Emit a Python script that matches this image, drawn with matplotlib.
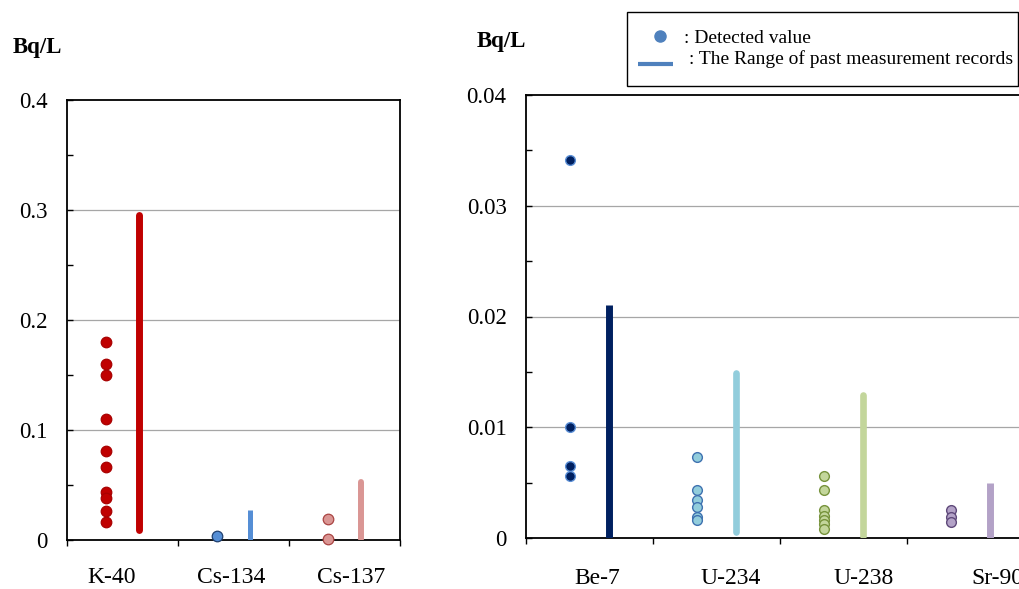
import numpy as np
import matplotlib
matplotlib.use("Agg")
import matplotlib.pyplot as plt
from matplotlib.lines import Line2D
from matplotlib.patches import Rectangle

plt.rcParams['font.family'] = ['Liberation Serif', 'DejaVu Serif']

# ---------------- data ----------------
left_categories = ['K-40', 'Cs-134', 'Cs-137']
k40_detected = [0.180, 0.160, 0.150, 0.110, 0.081, 0.066, 0.0436, 0.038, 0.026, 0.016]
cs134_detected = [0.0036]
cs137_detected = [0.019, 0.001]
left_range_lo = [0.009, 0.0, 0.001]
left_range_hi = [0.295, 0.027, 0.053]

right_categories = ['Be-7', 'U-234', 'U-238', 'Sr-90']
be7_detected = [0.0341, 0.0100, 0.0065, 0.0056]
u234_detected = [0.0073, 0.0043, 0.0034, 0.0028, 0.0019, 0.0016]
u238_detected = [0.0056, 0.0043, 0.0025, 0.0020, 0.0016, 0.0013, 0.0008]
sr90_detected = [0.0025, 0.0019, 0.0014]
right_range_lo = [0.0, 0.0005, 0.0002, 0.0]
right_range_hi = [0.021, 0.0149, 0.0129, 0.005]

left_yticks = [0, 0.1, 0.2, 0.3, 0.4]
left_yticklabels = ['0', '0.1', '0.2', '0.3', '0.4']
right_yticks = [0, 0.01, 0.02, 0.03, 0.04]
right_yticklabels = ['0', '0.01', '0.02', '0.03', '0.04']

legend_labels = [': Detected value', ': The Range of past measurement records']
unit_label = 'Bq/L'

# ---------------- styles ----------------
left_styles = [
    dict(fill='#C00000', edge='#A80000', bar='#C00000', lw=5.0, cap='round'),
    dict(fill='#558ED5', edge='#1F3F6E', bar='#558ED5', lw=3.6, cap='butt'),
    dict(fill='#DA9694', edge='#A94442', bar='#DA9694', lw=4.3, cap='round'),
]
right_styles = [
    dict(fill='#002060', edge='#5B8FD6', bar='#002060', lw=5.0, cap='butt'),
    dict(fill='#92CDDC', edge='#3F72B0', bar='#92CDDC', lw=4.8, cap='round'),
    dict(fill='#C3D69B', edge='#77933C', bar='#C3D69B', lw=4.8, cap='round'),
    dict(fill='#B3A2C7', edge='#5F497A', bar='#B3A2C7', lw=5.0, cap='butt'),
]

W, H = 1020, 589
fig = plt.figure(figsize=(W / 100, H / 100), dpi=100)


def px_rect(x0, y0, x1, y1):
    return [x0 / W, 1 - y1 / H, (x1 - x0) / W, (y1 - y0) / H]


ax1 = fig.add_axes(px_rect(67, 100, 400, 540))
ax2 = fig.add_axes(px_rect(526, 95, 1034, 538))

POINT_OFF = -0.15
BAR_OFF = 0.15


def draw_panel(ax, detected_lists, lo, hi, styles, msize, edge_w):
    for i, (vals, st) in enumerate(zip(detected_lists, styles)):
        ax.plot([i + BAR_OFF, i + BAR_OFF], [lo[i], hi[i]], color=st['bar'],
                lw=st['lw'], solid_capstyle=st['cap'], zorder=3)
        ax.plot(np.full(len(vals), i + POINT_OFF), vals, 'o', ms=msize,
                mfc=st['fill'], mec=st['edge'], mew=edge_w, zorder=4,
                clip_on=False)


draw_panel(ax1, [k40_detected, cs134_detected, cs137_detected],
           left_range_lo, left_range_hi, left_styles, 7.6, 0.9)
draw_panel(ax2, [be7_detected, u234_detected, u238_detected, sr90_detected],
           right_range_lo, right_range_hi, right_styles, 7.0, 1.0)


def style_axis(ax, n, ymax, yticks, yticklabels, label_spread, label_shift, label_pad, categories):
    ax.set_xlim(-0.5, n - 0.5)
    ax.set_ylim(0, ymax)
    ax.set_yticks(yticks)
    ax.set_yticklabels(yticklabels, fontsize=16.5)
    ax.set_yticks([v + ymax / 8 for v in yticks[:-1]], minor=True)
    ax.tick_params(axis='y', which='both', direction='in', length=4.3, width=1.0,
                   pad=14.0, color='black')
    # category boundary ticks
    ax.set_xticks(np.arange(n + 1) - 0.5)
    ax.set_xticklabels([''] * (n + 1))
    ax.tick_params(axis='x', which='major', direction='out', length=4.5, width=1.0)
    # category labels
    ax.set_xticks(np.arange(n) * label_spread + label_shift, minor=True)
    ax.set_xticklabels(categories, minor=True, fontsize=17)
    ax.tick_params(axis='x', which='minor', length=0, pad=label_pad)
    for v in yticks[1:-1]:
        ax.axhline(v, color='#A6A6A6', lw=0.9, zorder=1)
    for sp in ax.spines.values():
        sp.set_linewidth(1.3)
        sp.set_color('black')


style_axis(ax1, 3, 0.4, left_yticks, left_yticklabels, 1.08, -0.10, 19.5, left_categories)
style_axis(ax2, 4, 0.04, right_yticks, right_yticklabels, 1.05, 0.06, 21.5, right_categories)

# unit labels
fig.text(12.5 / W, 1 - 53.3 / H, unit_label, fontsize=16.5, fontweight='bold',
         ha='left', va='baseline')
fig.text(476.5 / W, 1 - 46.7 / H, unit_label, fontsize=16.5, fontweight='bold',
         ha='left', va='baseline')

# legend box
fig.patches.append(Rectangle((627 / W, 1 - 86 / H), (1018 - 627) / W, (86 - 12) / H,
                             transform=fig.transFigure, facecolor='white',
                             edgecolor='black', lw=1.0, zorder=5))
fig.lines.append(Line2D([660 / W], [1 - 36 / H], transform=fig.transFigure,
                        marker='o', ms=8.0, mfc='#4F81BD', mec='#4F81BD',
                        ls='none', zorder=6))
fig.lines.append(Line2D([638 / W, 673 / W], [1 - 64 / H, 1 - 64 / H],
                        transform=fig.transFigure, color='#4F81BD', lw=3.0,
                        solid_capstyle='butt', zorder=6))
fig.text(684 / W, 1 - 43.3 / H, legend_labels[0], fontsize=14, ha='left',
         va='baseline', zorder=7)
fig.text(689 / W, 1 - 64.3 / H, legend_labels[1], fontsize=14, ha='left',
         va='baseline', zorder=7)

fig.savefig('out.png', dpi=100)
